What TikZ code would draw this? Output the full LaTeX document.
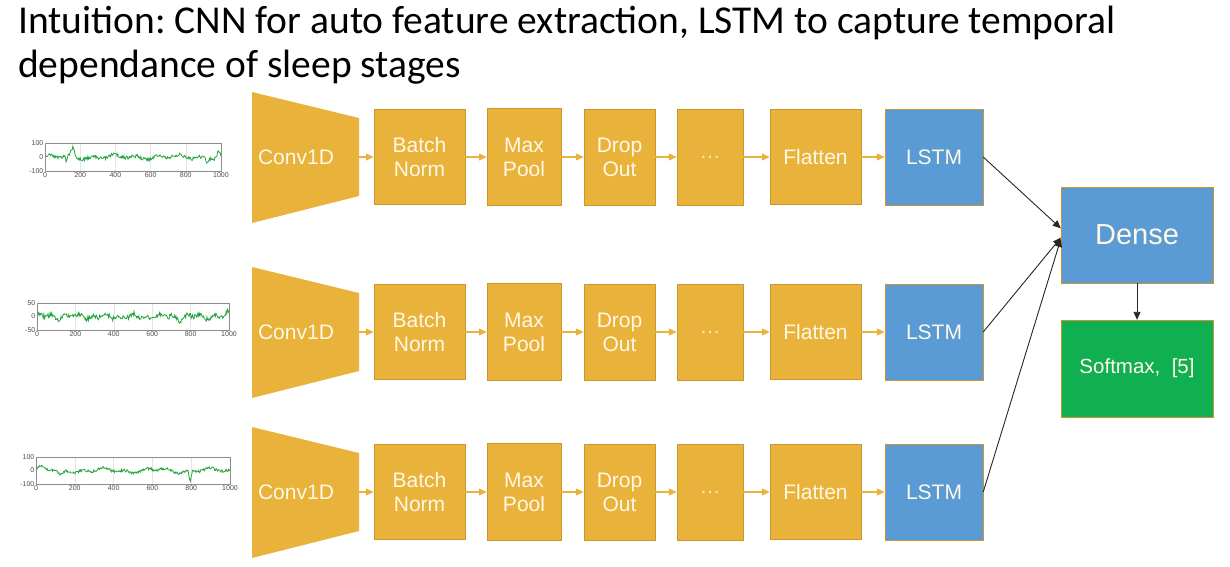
\documentclass[tikz,border=0pt]{standalone}
\usepackage{fontspec}
\setmainfont{Carlito}
\newfontfamily\boxfont{Liberation Sans}
\usetikzlibrary{arrows.meta}
\definecolor{cnnorange}{HTML}{E9B23A}
\definecolor{cnnedge}{HTML}{C9952C}
\definecolor{lstmblue}{HTML}{5B9BD5}
\definecolor{softgreen}{HTML}{10AF52}
\definecolor{labeltext}{HTML}{FFF8E6}
\definecolor{eeggreen}{HTML}{22A33C}
\frenchspacing

\begin{document}
\begin{tikzpicture}[
  x=1pt, y=-1pt,
  blk/.style={draw=cnnedge, fill=cnnorange, text=labeltext, inner sep=0pt,
    align=center, font=\boxfont\fontsize{21}{24}\selectfont},
  rnn/.style={blk, fill=lstmblue},
  arr/.style={draw=cnnorange, line width=1.2pt, -{Triangle[length=8pt,width=7pt]}},
  outarr/.style={draw=black!85, line width=0.9pt, -{Triangle[length=8pt,width=7pt]}},
  tick/.style={font=\boxfont\fontsize{7}{7}\selectfont, text=black!70, inner sep=1.5pt},
  frame/.style={draw=black!45, line width=0.4pt},
  gridline/.style={draw=black!10, line width=0.3pt},
  eeg/.style={draw=eeggreen, line width=0.8pt}
]
\useasboundingbox (0,0) rectangle (1230,566);

% title
\node [anchor=base west, inner sep=0pt, font=\fontsize{39.5}{44}\selectfont] (title1) at (18,33)
  {Intuition: CNN for auto feature extraction, LSTM to capture temporal};
\node [anchor=base west, inner sep=0pt, font=\fontsize{39.5}{44}\selectfont] (title2) at (18,77)
  {dependance of sleep stages};

% the three CNN-LSTM branches
\foreach \r/\y in {1/157, 2/332, 3/492} {
  \fill [cnnorange] (252,\y-65) -- (359,\y-39) -- (359,\y+39) -- (252,\y+66) -- cycle;
  \node [minimum width=107, minimum height=78, inner sep=0pt] (conv\r) at (305.5,\y) {};
  \node [text=labeltext, font=\boxfont\fontsize{21}{24}\selectfont] (convtxt\r) at (296,\y) {Conv1D};
  \node [blk, minimum width=91, minimum height=95] (bn\r) at (419.5,\y) {Batch\\Norm};
  \node [blk, minimum width=74, minimum height=97] (mp\r) at (524,\y) {Max\\Pool};
  \node [blk, minimum width=71, minimum height=96] (do\r) at (619.5,\y) {Drop\\Out};
  \node [blk, minimum width=66, minimum height=96, text=labeltext!75!cnnorange] (dots\r) at (710,\y) {\dots};
  \node [blk, minimum width=91, minimum height=95] (fl\r) at (815.5,\y) {Flatten};
  \node [rnn, minimum width=98, minimum height=96] (lstm\r) at (934,\y) {LSTM};
  \draw [arr] (conv\r.east) -- (bn\r.west);
  \draw [arr] (bn\r) -- (mp\r);
  \draw [arr] (mp\r) -- (do\r);
  \draw [arr] (do\r) -- (dots\r);
  \draw [arr] (dots\r) -- (fl\r);
  \draw [arr] (fl\r) -- (lstm\r);
}

% merge
\node [rnn, minimum width=152, minimum height=96, font=\boxfont\fontsize{29}{32}\selectfont] (dense) at (1137,235) {Dense};
\node [blk, fill=softgreen, minimum width=152, minimum height=97, font=\boxfont\fontsize{20.5}{23}\selectfont] (soft) at (1137,368.5) {Softmax,~~[5]};
\draw [outarr] (lstm1.east) -- (dense.175);
\draw [outarr] (lstm2.east) -- (dense.182);
\draw [outarr] (lstm3.east) -- (dense.183);
\draw [outarr] (dense) -- (soft);

% EEG input signals
\pgfmathsetseed{11}
\begin{scope}[shift={(45,157)}, x=0.176pt, y=0.14pt]
  \foreach \g in {200,400,600,800} \draw [gridline] (\g,-100) -- (\g,100);
  \draw [eeg] plot [domain=0:1000, samples=260]
    (\x, {8*sin(\x*1.1)+10*sin(\x*2.9+30)+12*rand
          +60*max(0,1-abs(\x-158)/22)-45*max(0,1-abs(\x-122)/10)
          +45*max(0,1-abs(\x-985)/15)-30*max(0,1-abs(\x-920)/12)});
  \draw [frame] (0,-100) rectangle (1000,100);
  \foreach \t in {0,200,...,1000} \node [tick, below] at (\t,-100) {\t};
  \node [tick, left] at (0,100) {100};
  \node [tick, left] at (0,0) {0};
  \node [tick, left] at (0,-100) {-100};
\end{scope}

\begin{scope}[shift={(37,316.5)}, x=0.192pt, y=0.27pt]
  \foreach \g in {200,400,600,800} \draw [gridline] (\g,-50) -- (\g,50);
  \draw [eeg] plot [domain=0:1000, samples=280]
    (\x, {5*sin(\x*2.3)+6*sin(\x*5.1+60)+9*rand
          -20*max(0,1-abs(\x-740)/14)+18*max(0,1-abs(\x-995)/10)});
  \draw [frame] (0,-50) rectangle (1000,50);
  \foreach \t in {0,200,...,1000} \node [tick, below] at (\t,-50) {\t};
  \node [tick, left] at (0,50) {50};
  \node [tick, left] at (0,0) {0};
  \node [tick, left] at (0,-50) {-50};
\end{scope}

\begin{scope}[shift={(36,470.5)}, x=0.194pt, y=0.135pt]
  \foreach \g in {200,400,600,800} \draw [gridline] (\g,-100) -- (\g,100);
  \draw [eeg] plot [domain=0:1000, samples=280]
    (\x, {12*sin(\x*1.3)+10*sin(\x*3.3+20)+10*rand
          +25*max(0,1-abs(\x-20)/25)-45*max(0,1-abs(\x-125)/30)
          -95*max(0,1-abs(\x-795)/10)});
  \draw [frame] (0,-100) rectangle (1000,100);
  \foreach \t in {0,200,...,1000} \node [tick, below] at (\t,-100) {\t};
  \node [tick, left] at (0,100) {100};
  \node [tick, left] at (0,0) {0};
  \node [tick, left] at (0,-100) {-100};
\end{scope}
\end{tikzpicture}
\end{document}
